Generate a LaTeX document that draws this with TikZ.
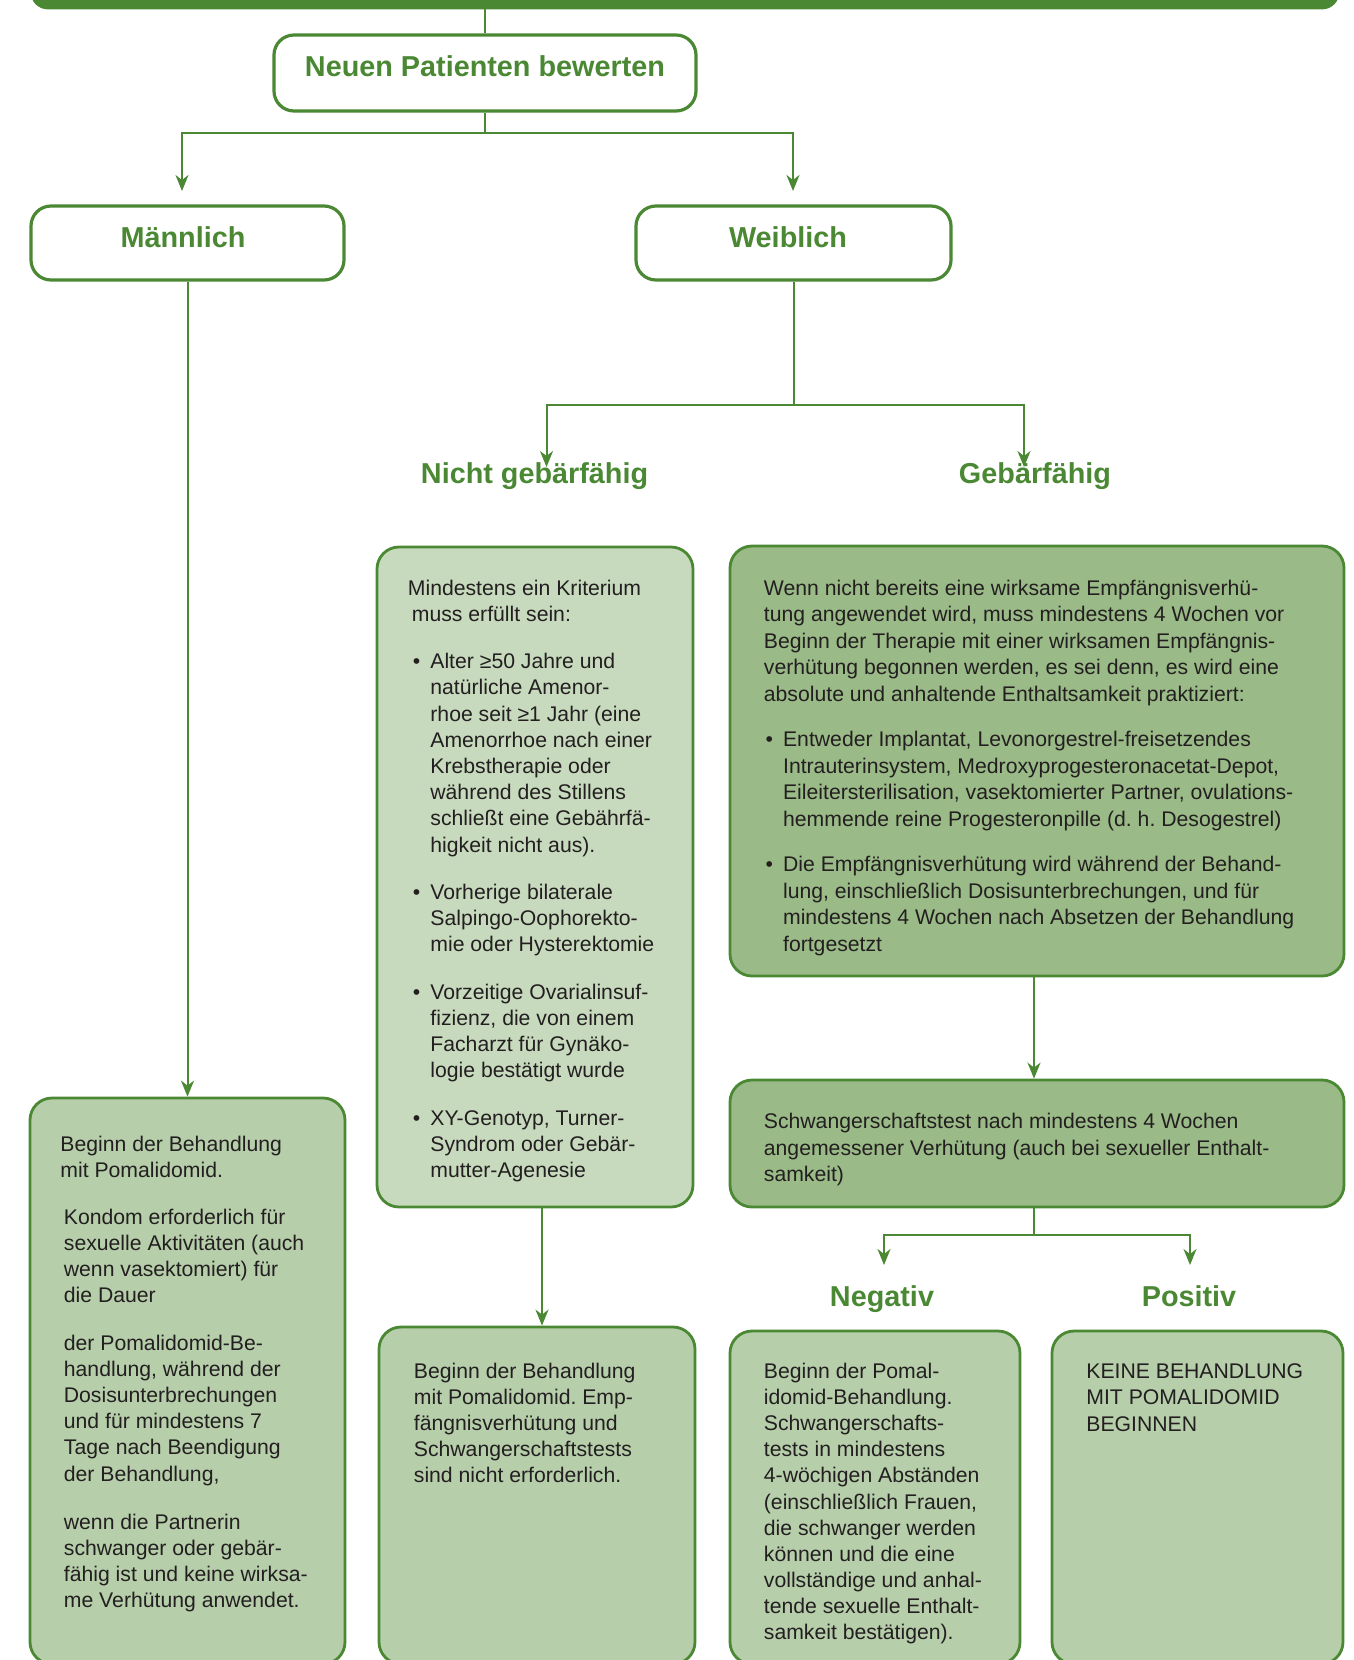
\documentclass[tikz,border=0pt]{standalone}
\usepackage{fontspec}
\setmainfont{Liberation Sans}
\usetikzlibrary{arrows.meta,fit}
\definecolor{gr}{HTML}{4A8834}
\definecolor{lightA}{HTML}{C7DABD}
\definecolor{lightB}{HTML}{B6CEAA}
\definecolor{medG}{HTML}{9ABA87}
\definecolor{txt}{HTML}{231F20}
\frenchspacing
\newcommand\tblock[3]{\begin{minipage}[t]{#1}\frenchspacing\raggedright\fontsize{10.6pt}{#2}\selectfont #3\end{minipage}}
\newcommand\bulitem[1]{\par\vspace{#1}\leavevmode\llap{•\hspace{5pt}}}
\begin{document}
\begin{tikzpicture}[x=0.5pt,y=-0.5pt,
  box/.style={draw=gr, line width=1.4pt, rounded corners=10pt, inner sep=0pt},
  hbox/.style={box, fill=white, line width=1.6pt},
  head/.style={text=gr, font=\fontsize{14.4pt}{17pt}\selectfont\bfseries, inner sep=0pt},
  body/.style={text=txt, inner sep=0pt, anchor=base west},
  conn/.style={draw=gr, line width=1pt},
  arr/.style={conn, -{Stealth[length=8pt,width=6.5pt,inset=2.5pt]}},
]
\useasboundingbox (0,0) rectangle (1354,1660);
\clip (0,0) rectangle (1354,1660);

% boxes
\node[box, fill=gr, rounded corners=8pt, fit={(32,-40) (1338,8)}] (bar) {};
\node[hbox, fit={(274,35) (696,111)}] (neuen) {};
\node[hbox, fit={(31,206) (344,280)}] (maenn) {};
\node[hbox, fit={(636,206) (951,280)}] (weib) {};
\node[box, fill=lightA, rounded corners=11pt, fit={(377,547) (693,1207)}] (nbox) {};
\node[box, fill=medG, rounded corners=11pt, fit={(730,546) (1344,976)}] (gbox) {};
\node[box, fill=medG, rounded corners=11pt, fit={(730,1080) (1344,1207)}] (sbox) {};
\node[box, fill=lightB, rounded corners=11pt, fit={(30,1098) (345,1664)}] (mres) {};
\node[box, fill=lightB, rounded corners=11pt, fit={(379,1327) (695,1664)}] (nres) {};
\node[box, fill=lightB, rounded corners=11pt, fit={(730,1331) (1020,1664)}] (negres) {};
\node[box, fill=lightB, rounded corners=11pt, fit={(1052,1331) (1343,1664)}] (posres) {};

% headings
\node[head, anchor=base] (hNeuen) at (485,76) {Neuen Patienten bewerten};
\node[head, anchor=base] (hM) at (183,247) {Männlich};
\node[head, anchor=base] (hW) at (788,247) {Weiblich};
\node[head, anchor=base] (hN) at (534.6,483) {Nicht gebärfähig};
\node[head, anchor=base] (hG) at (1035,483) {Gebärfähig};
\node[head, anchor=base] (hNeg) at (882,1306) {Negativ};
\node[head, anchor=base] (hPos) at (1189,1306) {Positiv};

% body texts
\node[body] (tN) at (407.5,595) {\tblock{200pt}{13.1pt}{%
Mindestens ein Kriterium\\
\hspace*{2pt}muss erfüllt sein:\par
\leftskip=11.25pt
\bulitem{10.6pt}Alter ≥50 Jahre und\\
natürliche Amenor-\\
rhoe seit ≥1 Jahr (eine\\
Amenorrhoe nach einer\\
Krebstherapie oder\\
während des Stillens\\
schließt eine Gebährfä-\\
higkeit nicht aus).
\bulitem{10.6pt}Vorherige bilaterale\\
Salpingo-Oophorekto-\\
mie oder Hysterektomie
\bulitem{10.6pt}Vorzeitige Ovarialinsuf-\\
fizienz, die von einem\\
Facharzt für Gynäko-\\
logie bestätigt wurde
\bulitem{10.6pt}XY-Genotyp, Turner-\\
Syndrom oder Gebär-\\
mutter-Agenesie}};

\node[body] (tG) at (763.5,595) {\tblock{320pt}{13.25pt}{%
Wenn nicht bereits eine wirksame Empfängnisverhü-\\
tung angewendet wird, muss mindestens 4 Wochen vor\\
Beginn der Therapie mit einer wirksamen Empfängnis-\\
verhütung begonnen werden, es sei denn, es wird eine\\
absolute und anhaltende Enthaltsamkeit praktiziert:\par
\leftskip=9.6pt
\bulitem{9.5pt}Entweder Implantat, Levonorgestrel-freisetzendes\\
Intrauterinsystem, Medroxyprogesteronacetat-Depot,\\
Eileitersterilisation, vasektomierter Partner, ovulations-\\
hemmende reine Progesteronpille (d. h. Desogestrel)
\bulitem{9.5pt}Die Empfängnisverhütung wird während der Behand-\\
lung, einschließlich Dosisunterbrechungen, und für\\
mindestens 4 Wochen nach Absetzen der Behandlung\\
fortgesetzt}};

\node[body] (tS) at (763.5,1128.6) {\tblock{320pt}{13.25pt}{%
Schwangerschaftstest nach mindestens 4 Wochen\\
angemessener Verhütung (auch bei sexueller Enthalt-\\
samkeit)}};

\node[body] (tM) at (60,1151) {\tblock{200pt}{13.1pt}{%
Beginn der Behandlung\\
mit Pomalidomid.\par
\leftskip=1.75pt
\vspace{10.3pt}Kondom erforderlich für\\
sexuelle Aktivitäten (auch\\
wenn vasektomiert) für\\
die Dauer\par
\vspace{10.6pt}der Pomalidomid-Be-\\
handlung, während der\\
Dosisunterbrechungen\\
und für mindestens 7\\
Tage nach Beendigung\\
der Behandlung,\par
\vspace{11pt}wenn die Partnerin\\
schwanger oder gebär-\\
fähig ist und keine wirksa-\\
me Verhütung anwendet.}};

\node[body] (tNR) at (413.5,1378.5) {\tblock{200pt}{13pt}{%
Beginn der Behandlung\\
mit Pomalidomid. Emp-\\
fängnisverhütung und\\
Schwangerschaftstests\\
sind nicht erforderlich.}};

\node[body] (tNeg) at (763.5,1378.5) {\tblock{200pt}{13.05pt}{%
Beginn der Pomal-\\
idomid-Behandlung.\\
Schwangerschafts-\\
tests in mindestens\\
4-wöchigen Abständen\\
(einschließlich Frauen,\\
die schwanger werden\\
können und die eine\\
vollständige und anhal-\\
tende sexuelle Enthalt-\\
samkeit bestätigen).}};

\node[body] (tPos) at (1086,1378.5) {\tblock{200pt}{13.15pt}{%
KEINE BEHANDLUNG\\
MIT POMALIDOMID\\
BEGINNEN}};

% connectors
\coordinate (j1) at (485,133);
\coordinate (tipM) at (182,191);
\coordinate (tipW) at (793,191);
\draw[conn] (bar.south -| neuen.north) -- (neuen.north);
\draw[conn] (neuen.south) -- (j1);
\draw[arr] (j1) -| (tipM);
\draw[arr] (j1) -| (tipW);

\draw[arr] (maenn.south) -- (mres.north);

\coordinate (j2) at (793.5,405);
\coordinate (tipN) at (546.5,467);
\coordinate (tipG) at (1024,467);
\draw[conn] (weib.south) -- (j2);
\draw[arr] (j2) -| (tipN);
\draw[arr] (j2) -| (tipG);

\coordinate (lineN) at (542,0);
\draw[arr] (nbox.south -| lineN) -- (nres.north -| lineN);

\coordinate (lineG) at (1034,0);
\draw[arr] (gbox.south -| lineG) -- (sbox.north -| lineG);

\coordinate (j3) at (1034,1235);
\coordinate (tipNeg) at (884,1265);
\coordinate (tipPos) at (1190,1265);
\draw[conn] (sbox.south -| j3) -- (j3);
\draw[arr] (j3) -| (tipNeg);
\draw[arr] (j3) -| (tipPos);
\end{tikzpicture}
\end{document}
